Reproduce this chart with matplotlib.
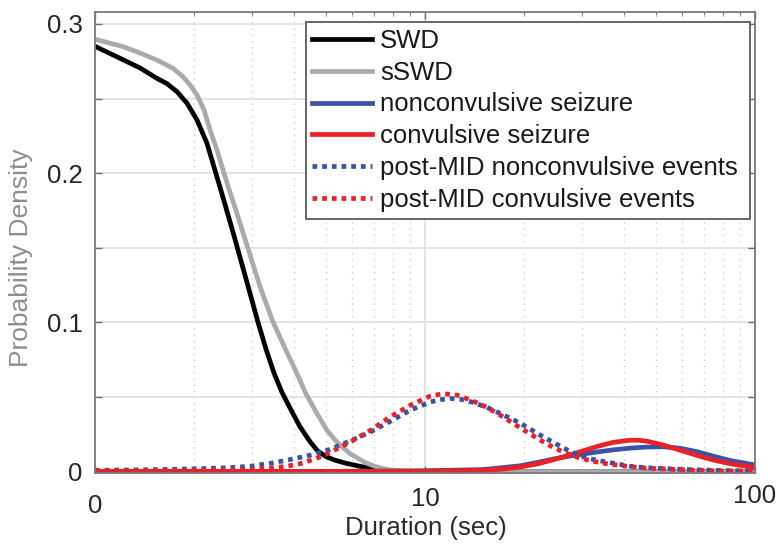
import matplotlib
matplotlib.use("Agg")
import matplotlib.pyplot as plt
from matplotlib.ticker import FixedLocator, FixedFormatter, NullFormatter
from matplotlib.transforms import ScaledTranslation

plt.rcParams['font.family'] = ['Liberation Sans', 'DejaVu Sans']

# ---- data ----
swd_x = [1.0, 1.216, 1.369, 1.541, 1.652, 1.772, 1.901, 2.038, 2.185, 2.295, 2.426, 2.638,
         2.869, 3.119, 3.298, 3.487, 3.687, 3.954, 4.181, 4.483, 4.740, 5.012, 5.300, 5.762,
         6.355, 6.909, 7.563, 8.398, 9.657, 100.0]
swd_y = [0.285, 0.276, 0.2705, 0.2635, 0.260, 0.2546, 0.2468, 0.2356, 0.2199, 0.204, 0.186,
         0.158, 0.129, 0.100, 0.082, 0.066, 0.053, 0.040, 0.030, 0.020, 0.0135, 0.010, 0.0078,
         0.0055, 0.0035, 0.002, 0.0007, 0.0001, 0.0, 0.0]

sswd_x = [1.0, 1.216, 1.369, 1.541, 1.723, 1.848, 1.941, 2.038, 2.140, 2.232, 2.343, 2.443,
          2.566, 2.675, 2.908, 3.162, 3.463, 3.792, 4.067, 4.360, 4.675, 5.047, 5.450, 5.926,
          6.579, 7.152, 7.832, 8.700, 9.657, 100.0]
sswd_y = [0.2897, 0.2848, 0.2805, 0.2758, 0.2703, 0.2646, 0.2591, 0.2523, 0.2423, 0.2289,
          0.2154, 0.202, 0.187, 0.175, 0.1495, 0.124, 0.1002, 0.0812, 0.067, 0.052, 0.040,
          0.0275, 0.019, 0.012, 0.006, 0.003, 0.001, 0.0002, 0.0, 0.0]

ncs_x = [1.0, 5.0, 10.0, 15.0, 19.4, 21.8, 24.4, 27.2, 30.3, 33.5, 37.1, 42.0, 47.1, 52.6,
         59.3, 66.7, 74.5, 84.0, 100.0]
ncs_y = [0.0, 0.0001, 0.0005, 0.0013, 0.0038, 0.006, 0.0083, 0.0102, 0.0118, 0.0132, 0.0145,
         0.0157, 0.0164, 0.0166, 0.0156, 0.0133, 0.0104, 0.0074, 0.0044]

cs_x = [1.0, 5.0, 10.0, 13.0, 15.0, 17.3, 19.4, 21.8, 24.4, 27.2, 30.3, 33.5, 37.1, 41.8,
        44.3, 47.1, 52.6, 59.3, 66.7, 74.5, 84.0, 100.0]
cs_y = [0.0, 0.0, 0.0002, 0.0005, 0.0008, 0.0017, 0.003, 0.005, 0.0078, 0.0108, 0.014,
        0.017, 0.0195, 0.021, 0.021, 0.0203, 0.0178, 0.0143, 0.0108, 0.0078, 0.0052, 0.0026]

pnc_x = [1.0, 1.5, 2.0, 2.5, 2.95, 3.4, 3.9, 4.5, 5.15, 5.93, 6.82, 7.83, 9.0, 10.35, 11.0,
         11.9, 12.9, 13.9, 15.4, 16.9, 18.6, 20.4, 22.3, 24.4, 26.8, 29.5, 32.4, 35.6, 41.8,
         47.0, 59.3, 74.5, 100.0]
pnc_y = [0.0008, 0.0012, 0.0018, 0.0025, 0.0035, 0.0055, 0.008, 0.011, 0.0148, 0.0205,
         0.0264, 0.0335, 0.041, 0.0465, 0.048, 0.049, 0.0483, 0.0465, 0.043, 0.0389, 0.0345,
         0.0297, 0.0245, 0.0197, 0.0148, 0.0105, 0.008, 0.0063, 0.0035, 0.0025, 0.0015,
         0.0008, 0.0003]

pc_x = [1.0, 2.0, 2.95, 3.39, 3.8, 4.18, 4.65, 5.15, 5.93, 6.82, 7.83, 9.0, 10.35, 11.35,
        12.5, 13.9, 15.4, 16.9, 18.6, 20.4, 22.3, 24.4, 26.8, 29.5, 32.4, 35.6, 41.8, 47.0,
        59.3, 74.5, 100.0]
pc_y = [0.0003, 0.0008, 0.0013, 0.0022, 0.0035, 0.0052, 0.0085, 0.0128, 0.0197, 0.0275,
        0.0365, 0.0443, 0.0505, 0.0522, 0.0512, 0.0475, 0.043, 0.0378, 0.032, 0.0264, 0.0212,
        0.0163, 0.0122, 0.009, 0.0068, 0.0052, 0.0032, 0.0022, 0.0012, 0.0005, 0.0002]

labels = ["SWD", "sSWD", "nonconvulsive seizure", "convulsive seizure",
          "post-MID nonconvulsive events", "post-MID convulsive events"]

xticks = [1, 10, 100]
xticklabels = ["0", "10", "100"]
xminor = [2, 3, 4, 5, 6, 7, 8, 9, 20, 30, 40, 50, 60, 70, 80, 90]
yticks = [0, 0.05, 0.1, 0.15, 0.2, 0.25, 0.3]
yticklabels = ["0", "", "0.1", "", "0.2", "", "0.3"]

# ---- styling ----
BLACK = "#000000"
GRAY = "#a9aaad"
BLUE = "#3953a6"
RED = "#ec2027"
LW = 3.4
DOT = (0, (1, 1.05))
FS = 18.5

fig = plt.figure(figsize=(7.78, 5.44), dpi=100)
ax = fig.add_axes([95 / 778, 1 - 473 / 544, 660 / 778, 461 / 544])

ax.plot(swd_x, swd_y, color=BLACK, lw=LW, label=labels[0], solid_joinstyle="round")
ax.plot(sswd_x, sswd_y, color=GRAY, lw=LW, label=labels[1], solid_joinstyle="round")
ax.plot(ncs_x, ncs_y, color=BLUE, lw=LW, label=labels[2], solid_joinstyle="round")
ax.plot(cs_x, cs_y, color=RED, lw=LW, label=labels[3], solid_joinstyle="round")
ax.plot(pnc_x, pnc_y, color=BLUE, lw=LW, ls=DOT, label=labels[4])
ax.plot(pc_x, pc_y, color=RED, lw=LW, ls=DOT, label=labels[5])

ax.set_xscale("log")
ax.set_xlim(1, 100)
ax.set_ylim(-0.0010, 0.308)

ax.xaxis.set_major_locator(FixedLocator(xticks))
ax.xaxis.set_major_formatter(FixedFormatter(xticklabels))
ax.xaxis.set_minor_locator(FixedLocator(xminor))
ax.xaxis.set_minor_formatter(NullFormatter())
ax.yaxis.set_major_locator(FixedLocator(yticks))
ax.yaxis.set_major_formatter(FixedFormatter(yticklabels))

ax.grid(True, which="major", axis="y", color="#e2e2e2", lw=1.3, ls="-")
ax.grid(True, which="major", axis="x", color="#e2e2e2", lw=1.3, ls="-")
ax.grid(True, which="minor", axis="x", color="#c4c4c4", lw=0.9, ls=(0, (1, 4)))
ax.set_axisbelow(True)

ax.tick_params(which="both", direction="in", top=True, right=True, color="#6e6e6e",
               labelcolor="#262626", labelsize=FS)
ax.tick_params(which="major", length=5, width=1)
ax.tick_params(which="minor", length=2.5, width=0.8)
ax.tick_params(axis="y", pad=9)
ax.tick_params(axis="x", pad=10)

for s in ax.spines.values():
    s.set_color("#7a7a7a")
    s.set_linewidth(1.3)

ax.set_xlabel("Duration (sec)", fontsize=FS, color="#2b2b2b")
ax.xaxis.set_label_coords((426 - 95) / 660, -0.094)
ax.set_ylabel("Probability Density", fontsize=FS + 0.5, color="#8e8e8e")
ax.yaxis.set_label_coords(-0.094, 0.4675)

leg = ax.legend(loc="upper left", bbox_to_anchor=(0.3197, 0.0, 0.6727, 0.978),
                mode="expand", borderaxespad=0, fontsize=FS, frameon=True,
                fancybox=False, framealpha=1, edgecolor="#5a5a5a",
                handlelength=2.33, handletextpad=0.31, borderpad=0.25,
                labelspacing=0.31)
leg.get_frame().set_linewidth(1.3)
for t in leg.get_texts():
    t.set_color("#1a1a1a")

# the reference shows its x tick labels at slightly different heights
fig.canvas.draw()
majticks = ax.xaxis.get_major_ticks()
offsets_px = [-7, 0, 3]
for tk, off in zip(majticks, offsets_px):
    tk.label1.set_transform(tk.label1.get_transform()
                            + ScaledTranslation(0, off / 100, fig.dpi_scale_trans))

fig.savefig("out.png", dpi=100)
